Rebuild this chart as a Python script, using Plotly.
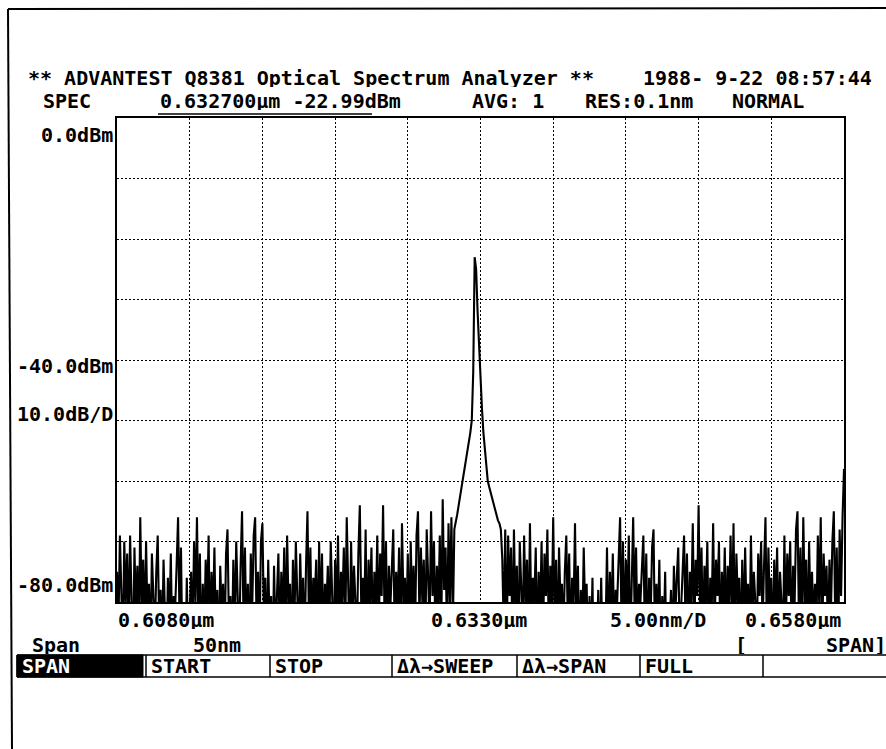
import plotly.graph_objects as go

# ---------------- data ----------------
start_nm = 608.0
step_nm = 0.1
power_dbm = [
    -75, -84, -69, -78, -88, -70, -80, -72, -86, -69,   # 608
    -79, -90, -71, -82, -74, -87, -66, -81, -73, -85,   # 609
    -70, -83, -77, -89, -72, -80, -86, -75, -69, -84,   # 610
    -78, -88, -73, -82, -90, -76, -84, -72, -87, -79,   # 611
    -81, -74, -66, -83, -71, -89, -85, -92, -76, -88,   # 612
    -82, -75, -86, -70, -80, -66, -84, -72, -90, -77,   # 613
    -85, -73, -81, -69, -88, -75, -83, -71, -86, -78,   # 614
    -90, -74, -82, -77, -87, -72, -68, -84, -79, -89,   # 615
    -73, -85, -70, -80, -88, -74, -65, -83, -71, -86,   # 616
    -77, -90, -72, -81, -69, -66, -84, -75, -87, -70,   # 617
    -67, -82, -76, -89, -73, -85, -79, -91, -74, -86,   # 618
    -80, -72, -88, -75, -83, -71, -86, -69, -81, -77,   # 619
    -89, -73, -84, -70, -79, -87, -72, -82, -76, -88,   # 620
    -74, -65, -83, -71, -86, -76, -80, -73, -90, -70,   # 621
    -84, -72, -88, -77, -81, -74, -86, -70, -79, -89,   # 622
    -73, -82, -69, -87, -75, -80, -71, -85, -66, -78,   # 623
    -88, -70, -83, -74, -79, -86, -72, -64, -81, -76,   # 624
    -84, -68, -90, -73, -80, -71, -87, -75, -82, -69,   # 625
    -85, -72, -79, -64, -83, -70, -88, -74, -81, -73,   # 626
    -68, -86, -75, -82, -71, -89, -67, -80, -76, -84,   # 627
    -72, -87, -70, -81, -74, -85, -69, -65, -83, -71,   # 628
    -80, -73, -88, -68, -77, -84, -65, -79, -70, -86,   # 629
    -74, -82, -69, -85, -63, -78, -71, -87, -67, -80,   # 630
    -66, -84, -68, -67, -65.5, -64, -62.5, -61, -60, -58.5,   # 631
    -57, -55.5, -54, -52, -50, -42, -23, -25, -32, -38,       # 632
    -44, -48, -52, -55, -58, -60, -61, -62, -63, -64,         # 633
    -65, -66, -66.5, -67, -68, -73, -85, -68, -88, -69,       # 634
    -79, -71, -87, -68, -82, -74, -90, -70, -77, -85,   # 635
    -69, -81, -73, -88, -67, -84, -76, -80, -71, -89,   # 636
    -75, -83, -70, -86, -72, -79, -68, -87, -74, -82,   # 637
    -66, -84, -73, -89, -71, -80, -77, -86, -75, -69,   # 638
    -83, -72, -88, -76, -81, -67, -85, -74, -90, -78,   # 639
    -86, -71, -82, -77, -91, -79, -88, -76, -93, -80,   # 640
    -87, -78, -92, -76, -89, -81, -85, -71, -88, -75,   # 641
    -83, -72, -87, -78, -80, -74, -66, -84, -70, -86,   # 642
    -73, -81, -69, -88, -75, -66, -82, -71, -86, -77,   # 643
    -80, -74, -69, -85, -72, -89, -76, -83, -71, -68,   # 644
    -87, -77, -84, -73, -90, -79, -86, -75, -91, -80,   # 645
    -85, -78, -89, -74, -82, -76, -71, -87, -80, -73,   # 646
    -69, -84, -72, -88, -75, -81, -67, -86, -73, -79,   # 647
    -64, -83, -71, -87, -74, -80, -70, -89, -76, -82,   # 648
    -67, -85, -73, -79, -70, -88, -75, -82, -71, -86,   # 649
    -74, -81, -69, -84, -67, -87, -72, -80, -76, -89,   # 650
    -73, -85, -71, -82, -77, -88, -69, -83, -75, -80,   # 651
    -86, -72, -79, -70, -84, -74, -66, -87, -71, -81,   # 652
    -76, -89, -73, -82, -71, -86, -75, -80, -88, -69,   # 653
    -84, -72, -79, -70, -87, -74, -81, -68, -65, -83,   # 654
    -71, -86, -66, -80, -73, -88, -70, -82, -75, -84,   # 655
    -77, -85, -69, -81, -66, -87, -72, -79, -74, -86,   # 656
    -73, -82, -70, -65, -84, -71, -88, -68, -79, -66,   # 657
    -58,                                                # 658
]
wavelength_nm = [start_nm + step_nm * i for i in range(len(power_dbm))]

x_range = [608, 658]      # 0.6080 um .. 0.6580 um, 5 nm/div
y_range = [-80, 0]        # 0 dBm ref, 10 dB/div

header_left = "** ADVANTEST Q8381 Optical Spectrum Analyzer **"
header_right = "1988- 9-22 08:57:44"
marker_text = "0.632700µm -22.99dBm"
y_labels = ["0.0dBm", "-40.0dBm", "10.0dB/D", "-80.0dBm"]
x_labels = ["0.6080µm", "0.6330µm", "5.00nm/D", "0.6580µm"]
softkeys = ["SPAN", "START", "STOP", "Δλ→SWEEP", "Δλ→SPAN", "FULL", ""]

# ---------------- geometry (pixels) ----------------
FW, FH = 886, 749
L, R, T, B = 117, 844, 118, 602
W, H = R - L, B - T


def px(x):
    return (x - L) / W


def py(y):
    return (B - y) / H


FONT = "DejaVu Sans Mono"
FS = 20

fig = go.Figure()
fig.add_trace(go.Scatter(
    x=wavelength_nm, y=power_dbm, mode="lines",
    line=dict(color="black", width=2.1), hoverinfo="skip", showlegend=False,
))

annotations = []


def txt(s, x, y, anchor="left", color="black", size=FS):
    annotations.append(dict(
        text=s, x=px(x), y=py(y), xref="paper", yref="paper",
        xanchor=anchor, yanchor="middle", showarrow=False, height=18,
        font=dict(family=FONT, size=size, color=color),
    ))


txt("<b>" + header_left + "</b>", 26, 77.5)
txt("<b>" + header_right + "</b>", 641, 77.5)
txt("<b>SPEC</b>", 41, 101.5)
txt("<b>" + marker_text + "</b>", 158, 101.5)
txt("<b>AVG: 1</b>", 470, 101.5)
txt("<b>RES:0.1nm</b>", 583, 101.5)
txt("<b>NORMAL</b>", 730, 101.5)

txt("<b>" + y_labels[0] + "</b>", 115, 135, anchor="right")
txt("<b>" + y_labels[1] + "</b>", 115, 366, anchor="right")
txt("<b>" + y_labels[2] + "</b>", 115, 414, anchor="right")
txt("<b>" + y_labels[3] + "</b>", 115, 585, anchor="right")

txt("<b>" + x_labels[0] + "</b>", 116, 620)
txt("<b>" + x_labels[1] + "</b>", 429, 620)
txt("<b>" + x_labels[2] + "</b>", 608, 620)
txt("<b>" + x_labels[3] + "</b>", 743, 620)

txt("<b>Span</b>", 30, 645)
txt("<b>50nm</b>", 191, 645)
txt("<b>[</b>", 733, 645)
txt("<b>SPAN]</b>", 824, 645)

shapes = []


def line(x0, y0, x1, y1, w=1.5, color="black"):
    shapes.append(dict(type="line", xref="paper", yref="paper",
                       x0=px(x0), y0=py(y0), x1=px(x1), y1=py(y1),
                       line=dict(color=color, width=w)))


# outer frame of the printout
line(8, 9, 886, 8, w=2)
line(8, 9, 12, 749, w=2)
# marker readout underline
line(158, 114, 372, 114, w=1.5)

# soft-key bar
edges = [17, 146, 270, 392, 517, 640, 763, 886]
bar_top, bar_bot = 655, 677
shapes.append(dict(type="rect", xref="paper", yref="paper",
                   x0=px(edges[0]), x1=px(edges[1] - 3), y0=py(bar_bot), y1=py(bar_top),
                   fillcolor="black", line=dict(color="black", width=1)))
line(edges[0], bar_top, edges[-1], bar_top)
line(edges[0], bar_bot, edges[-1], bar_bot)
for e in edges[:-1]:
    line(e, bar_top, e, bar_bot)
for i, k in enumerate(softkeys):
    if k:
        txt("<b>" + k + "</b>", edges[i] + 3, 666, color="white" if i == 0 else "black")

fig.update_layout(
    width=FW, height=FH,
    margin=dict(l=L, r=FW - R, t=T, b=FH - B, pad=0),
    paper_bgcolor="white", plot_bgcolor="white",
    showlegend=False,
    annotations=annotations, shapes=shapes,
    xaxis=dict(range=x_range, tick0=608, dtick=5, showticklabels=False, ticks="",
               showgrid=True, gridcolor="black", gridwidth=1, griddash="2px,2px",
               zeroline=False, showline=True, linecolor="black", linewidth=2, mirror=True,
               fixedrange=True),
    yaxis=dict(range=y_range, tick0=0, dtick=10, showticklabels=False, ticks="",
               showgrid=True, gridcolor="black", gridwidth=1, griddash="2px,2px",
               zeroline=False, showline=True, linecolor="black", linewidth=2, mirror=True,
               fixedrange=True),
)

fig.write_html("out.html", config={"displayModeBar": False},
               post_script="document.body.style.margin='0px';document.body.style.overflow='hidden';")
